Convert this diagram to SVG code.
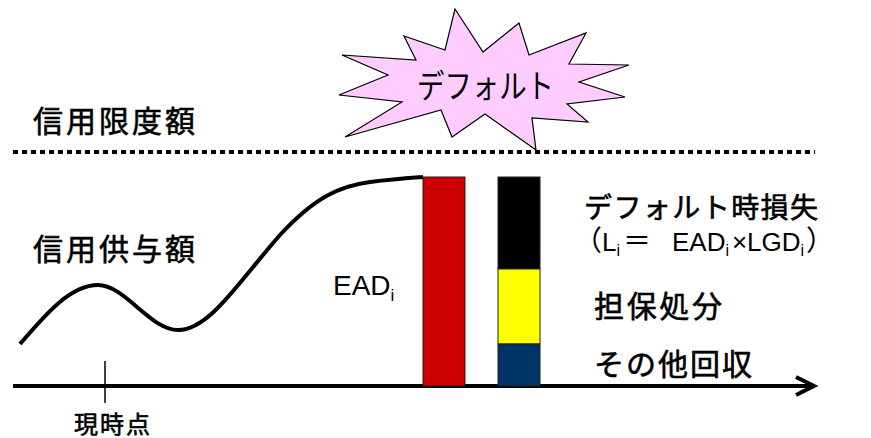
<svg xmlns="http://www.w3.org/2000/svg" width="871" height="438" viewBox="0 0 871 438">
<style>
.jp{font-family:"Noto Sans CJK JP","Liberation Sans",sans-serif;font-weight:normal;fill:#000;stroke:#000;stroke-width:0.6}
.lat{font-family:"Liberation Sans",Arial,sans-serif;fill:#000}
.bar{stroke:#222;stroke-width:1}
.axis{stroke:#000;stroke-width:4;fill:none}
</style>
<defs>
<marker id="chev" markerUnits="userSpaceOnUse" markerWidth="30" markerHeight="30" refX="20" refY="10" orient="auto" viewBox="0 0 30 20">
<path d="M2,1 L20,10 L2,19" fill="none" stroke="#000" stroke-width="4"/>
</marker>
</defs>
<rect width="871" height="438" fill="#fff"/>
<g id="connectors">
<line class="axis" x1="13" y1="386" x2="814" y2="386" marker-end="url(#chev)"/>
<line x1="105" y1="361" x2="105" y2="403" stroke="#000" stroke-width="1.5"/>
<line x1="13" y1="152" x2="815" y2="152" stroke="#000" stroke-width="4" stroke-dasharray="5 4"/>
<path d="M20,344 C45,315 70,285 98,285 C125,285 150,330 178,330 C210,330 240,280 280,235 C315,197 340,186 370,182 C395,179 410,178 423,177" fill="none" stroke="#000" stroke-width="4"/>
</g>
<g id="star">
<polygon points="455,9 483,52 519,23 529,55 586,33 569,64 629,65 579,82 625,97 567,104 588,122 532,118 536,150 485,114 452,137 441,110 345,137 402,102 339,95 388,75 342,55 416,60 404,36 445,50" fill="#FFCCFF" stroke="#000" stroke-width="1.2"/>
<text x="417" y="98" font-size="33" textLength="137" lengthAdjust="spacingAndGlyphs" font-family="Noto Sans CJK JP, sans-serif" fill="#000">デフォルト</text>
</g>
<g id="limit-label">
<text class="jp" x="33" y="132" font-size="30" textLength="162">信用限度額</text>
</g>
<g id="exposure-label">
<text class="jp" x="33" y="260" font-size="30" textLength="162">信用供与額</text>
</g>
<g id="now-label">
<text class="jp" x="74" y="433" font-size="24" textLength="76">現時点</text>
</g>
<g id="ead-bar">
<rect class="bar" x="423" y="177" width="42" height="209" fill="#CC0000"/>
<text class="lat" x="333" y="295" font-size="28">EAD<tspan font-size="17" dy="6">i</tspan></text>
</g>
<g id="loss-bar">
<rect class="bar" x="498" y="177" width="42" height="92" fill="#000"/>
<rect class="bar" x="498" y="269" width="42" height="75" fill="#FFFF00"/>
<rect class="bar" x="498" y="344" width="42" height="42" fill="#003366"/>
</g>
<g id="loss-label">
<text class="jp" x="584" y="218" font-size="28" textLength="234">デフォルト時損失</text>
<text y="251" font-size="26" font-family="Liberation Sans, sans-serif">
<tspan font-family="Noto Sans CJK JP, sans-serif" font-size="28" x="574">（</tspan><tspan class="lat" x="602">L</tspan><tspan class="lat" font-size="16" dy="5">i</tspan><tspan font-family="Noto Sans CJK JP, sans-serif" font-size="28" x="623" dy="-5">＝</tspan><tspan class="lat" x="672">EAD</tspan><tspan class="lat" font-size="16" dy="5">i</tspan><tspan class="lat" x="732" dy="-5">×</tspan><tspan class="lat" x="747">LGD</tspan><tspan class="lat" font-size="16" dy="5">i</tspan><tspan font-family="Noto Sans CJK JP, sans-serif" font-size="28" x="806" dy="-5">）</tspan>
</text>
</g>
<g id="collateral-label">
<text class="jp" x="594" y="317" font-size="30" textLength="128">担保処分</text>
</g>
<g id="other-label">
<text class="jp" x="594" y="375" font-size="30" textLength="158">その他回収</text>
</g>
</svg>
